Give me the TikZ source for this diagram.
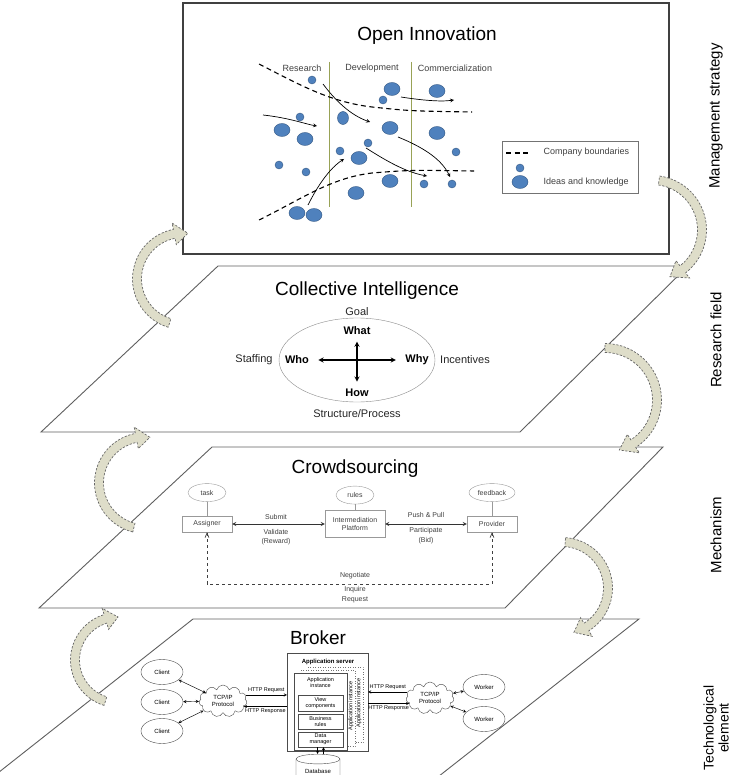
\documentclass[tikz,border=0pt]{standalone}
\usepackage{fontspec}
\setmainfont{Liberation Sans}
\usetikzlibrary{shapes.geometric, shapes.symbols, arrows, positioning, calc}

\definecolor{ideablue}{RGB}{79,129,189}
\definecolor{ideaedge}{RGB}{52,88,132}
\definecolor{stagegreen}{RGB}{152,162,86}
\definecolor{bentfill}{RGB}{222,221,201}
\definecolor{panelgray}{RGB}{95,95,95}

\tikzstyle{panel} = [draw=panelgray, line width=0.9pt, fill=white]
\tikzstyle{headline} = [font=\fontsize{19}{22}\selectfont]
\tikzstyle{sidelabel} = [rotate=90, align=center, font=\fontsize{15}{16}\selectfont]
\tikzstyle{stage} = [text=black!75, font=\fontsize{9}{10}\selectfont]
\tikzstyle{idea} = [draw=ideaedge, fill=ideablue, line width=0.4pt]
\tikzstyle{boundary} = [line width=1.1pt, dash pattern=on 5pt off 3.5pt]
\tikzstyle{flow} = [->, >=stealth, line width=0.7pt]
\tikzstyle{turnarrow} = [draw=black!60, fill=bentfill, line width=0.7pt, dash pattern=on 2.2pt off 1.6pt]
\tikzstyle{ci} = [font=\fontsize{11}{13}\selectfont, text=black!85]
\tikzstyle{cibold} = [font=\fontsize{11}{13}\selectfont\bfseries]
\tikzstyle{role} = [rectangle, draw=black!40, text=black!75, minimum width=50pt, minimum height=16pt, font=\fontsize{7}{8}\selectfont]
\tikzstyle{attr} = [ellipse, draw=black!40, text=black!75, minimum width=38pt, minimum height=18pt, inner sep=1pt, font=\fontsize{7}{8}\selectfont]
\tikzstyle{crowd} = [text=black!75, font=\fontsize{7}{8.5}\selectfont]
\tikzstyle{link} = [<->, >=stealth, line width=0.8pt, draw=black!80]
\tikzstyle{talk} = [<->, >=angle 45, dashed, line width=0.7pt, draw=black!75]
\tikzstyle{peer} = [ellipse, draw=black!70, minimum width=42pt, minimum height=25pt, font=\fontsize{6}{7}\selectfont]
\tikzstyle{tcp} = [cloud, cloud puffs=11, aspect=1.7, draw=black!70, minimum width=48pt, minimum height=32pt, inner sep=0pt, align=center, font=\fontsize{6}{7}\selectfont]
\tikzstyle{part} = [rectangle, draw=black!70, minimum width=45pt, minimum height=15pt, inner sep=0pt, align=center, font=\fontsize{5.5}{6}\selectfont]
\tikzstyle{msg} = [line width=0.45pt, >=stealth, font=\fontsize{5.5}{6}\selectfont]

% bent block arrow: centre, radius, start angle, end angle
\newcommand{\roundarrow}[4]{%
  \draw[turnarrow] ($#1+({#3}:{#2+4.5})$) arc[start angle=#3, end angle=#4-17, radius=#2+4.5]
    -- ($#1+({#4-17}:{#2+11})$) -- ($#1+({#4}:{#2})$) -- ($#1+({#4-17}:{#2-11})$)
    -- ($#1+({#4-17}:{#2-4.5})$) arc[start angle=#4-17, end angle=#3, radius=#2-4.5] -- cycle;}

\begin{document}
\begin{tikzpicture}[x=1pt, y=-1pt]
\useasboundingbox (0,0) rectangle (742,775);

% Layers
\draw[panel] (193,619) -- (639,619) -- (434,780) -- (-11,780) -- cycle;
\draw[panel] (212,447) -- (663,447) -- (505,608) -- (39,608) -- cycle;
\draw[panel] (218,266) -- (688,266) -- (520,432) -- (41,432) -- cycle;
\draw[draw=black!75, line width=1.2pt, fill=white] (183,3) rectangle (669,254);

% Open Innovation
\node (oi) [headline] at (427,36) {Open Innovation};
\node (research) [stage] at (302,68) {Research};
\node (development) [stage] at (372,68) {Development};
\node (commercial) [stage] at (455,68) {Commercialization};
\draw[stagegreen, line width=1pt] (329,62) -- (329,207);
\draw[stagegreen, line width=1pt] (411,62) -- (411,207);

\draw[boundary] (259,64) .. controls (300,85) and (330,102) .. (372,107) .. controls (410,111) .. (472,112);
\draw[boundary] (259,220) .. controls (300,200) and (330,178) .. (372,173) .. controls (410,170) .. (474,171);

\foreach \x/\y in {312/80, 383/100, 300/117, 279/165, 306/172, 340/151, 368/143, 456/152, 424/184, 452/184}
  \draw[idea] (\x,\y) circle[radius=4];
\foreach \x/\y in {392/89, 437/91, 282/130, 305/139, 390/128, 437/133, 359/158, 390/181, 356/193, 297/213, 314/215}
  \draw[idea] (\x,\y) ellipse[x radius=8, y radius=6.5];
\draw[idea] (343,118) ellipse[x radius=5.5, y radius=6.5];

\draw[flow] (263,115) .. controls (290,118) and (305,124) .. (317,126);
\draw[flow] (323,84) .. controls (335,100) and (350,115) .. (370,122);
\draw[flow] (401,97) .. controls (420,100) and (440,102) .. (454,100);
\draw[flow] (308,205) .. controls (318,185) and (330,168) .. (344,159);
\draw[flow] (366,148) .. controls (385,160) and (405,172) .. (427,176);
\draw[flow] (398,137) .. controls (425,148) and (442,160) .. (450,177);

% Legend
\draw[draw=black!55, line width=0.8pt] (502,141) rectangle (638,193);
\draw[boundary] (506,153) -- (531,153);
\node (legendline) [stage, right] at (540,152) {Company boundaries};
\draw[idea] (520,168) circle[radius=4];
\draw[idea] (520,182) ellipse[x radius=8, y radius=6.5];
\node (legendidea) [stage, right] at (540,182) {Ideas and knowledge};

% Collective Intelligence
\node (cititle) [headline] at (367,291) {Collective Intelligence};
\node (circle) [ellipse, draw=black!45, minimum width=156pt, minimum height=84pt] at (357,360) {};
\node (goal) [ci] at (357,312) {Goal};
\node (what) [cibold] at (357,331) {What};
\node (how) [cibold] at (357,393) {How};
\node (who) [cibold] at (297,360) {Who};
\node (why) [cibold] at (417,360) {Why};
\node (staffing) [ci] at (254,360) {Staffing};
\node (incentives) [ci] at (465,360) {Incentives};
\node (structure) [ci] at (357,414) {Structure/Process};
\draw[<->, >=stealth, line width=1.3pt, shorten <=6pt, shorten >=6pt] (who) -- (why);
\draw[<->, >=stealth, line width=1.3pt, shorten <=3pt, shorten >=4pt] (what) -- (how);

% Crowdsourcing
\node (cstitle) [headline] at (355,469) {Crowdsourcing};
\node (assigner) [role] at (207,524) {Assigner};
\node (platform) [role, minimum width=60pt, minimum height=27pt, align=center] at (355,524) {Intermediation\\Platform};
\node (provider) [role] at (492,524) {Provider};
\node (task) [attr, above=14pt of assigner] {task};
\node (rules) [attr, above=6pt of platform] {rules};
\node (feedback) [attr, minimum width=46pt, above=14pt of provider] {feedback};
\draw[draw=black!40] (task) -- (assigner);
\draw[draw=black!40] (rules) -- (platform);
\draw[draw=black!40] (feedback) -- (provider);
\draw[link] (assigner) -- (platform);
\draw[link] (platform) -- (provider);
\node (submit) [crowd] at (276,517) {Submit};
\node (validate) [crowd] at (276,531.5) {Validate};
\node (reward) [crowd] at (276,542) {(Reward)};
\node (pushpull) [crowd] at (426,515) {Push \& Pull};
\node (participate) [crowd] at (426,530.5) {Participate};
\node (bid) [crowd] at (426,541) {(Bid)};
\coordinate (loopbase) at (350,584);
\draw[talk] (assigner.south) |- (loopbase) -| (provider.south);
\node (negotiate) [crowd] at (355,576) {Negotiate};
\node (inquire) [crowd] at (355,590) {Inquire};
\node (request) [crowd] at (355,600) {Request};

% Broker
\node (brokertitle) [headline] at (318,638) {Broker};
\draw[draw=black!70, line width=0.6pt, fill=white] (287,653) rectangle (368,751);
\node (servertitle) [font=\fontsize{6}{7}\selectfont\bfseries] at (328,662) {Application server};
\draw[draw=black!55, line width=0.5pt, dotted, fill=white] (308,667) rectangle (363,742);
\node (inst3) [msg, rotate=90] at (359,703) {Application instance};
\draw[draw=black!55, line width=0.5pt, dotted, fill=white] (301,670) rectangle (355,746);
\node (inst2) [msg, rotate=90] at (351,706) {Application instance};
\draw[draw=black!70, line width=0.6pt, fill=white] (294,673) rectangle (347,750);
\node (appinst) [msg, align=center] at (320.5,683) {Application\\instance};
\node (view) [part, minimum height=16pt] at (320.5,703) {View\\components};
\node (business) [part] at (320.5,721.5) {Business\\rules};
\node (datamgr) [part] at (320.5,739.5) {Data\\manager};
\node (db) [cylinder, shape border rotate=90, aspect=0.3, draw=black!70, fill=white, minimum width=44pt, minimum height=26pt, font=\fontsize{6}{7}\selectfont] at (318,771) {Database};
\draw[msg, ->] ([xshift=-3pt]datamgr.south) -- ([xshift=-3pt]datamgr.south |- db.north);
\draw[msg, <-] ([xshift=3pt]datamgr.south) -- ([xshift=3pt]datamgr.south |- db.north);

\node (client1) [peer] at (162,672) {Client};
\node (client2) [peer] at (162,702) {Client};
\node (client3) [peer] at (162,731) {Client};
\node (tcpl) [tcp] at (223,701) {TCP/IP\\Protocol};
\draw[msg, <->] (client1) -- (tcpl);
\draw[msg, <->] (client2) -- (tcpl);
\draw[msg, <->] (client3) -- (tcpl);
\draw[msg, ->] (tcpl.15) -- (tcpl.15 -| 287,0) node[midway, above=-1pt] {HTTP Request};
\draw[msg, <-] (tcpl.-15) -- (tcpl.-15 -| 287,0) node[midway, below=-1pt] {HTTP Response};

\node (worker1) [peer] at (484,687) {Worker};
\node (worker2) [peer] at (484,719) {Worker};
\node (tcpr) [tcp] at (430,698) {TCP/IP\\Protocol};
\draw[msg, <->] (tcpr) -- (worker1);
\draw[msg, <->] (tcpr) -- (worker2);
\draw[msg, <-] (tcpr.165 -| 368,0) -- (tcpr.165) node[midway, above=-1pt] {HTTP Request};
\draw[msg, ->] (tcpr.195 -| 368,0) -- (tcpr.195) node[midway, below=-1pt] {HTTP Response};

% Bent arrows between layers
\roundarrow{(183,279)}{46}{107}{276}
\roundarrow{(652,230)}{50}{-82}{69}
\roundarrow{(145,483)}{46}{104}{276}
\roundarrow{(605,400)}{52}{-90}{74}
\roundarrow{(118,660)}{43}{107}{270}
\roundarrow{(562,588)}{46}{-86}{75}

% Side labels
\node (strategy) [sidelabel] at (716,116) {Management strategy};
\node (field) [sidelabel] at (716,340) {Research field};
\node (mechanism) [sidelabel] at (716,535) {Mechanism};
\node (element) [sidelabel, font=\fontsize{14}{15}\selectfont] at (716,728) {Technological\\element};

\end{tikzpicture}
\end{document}
